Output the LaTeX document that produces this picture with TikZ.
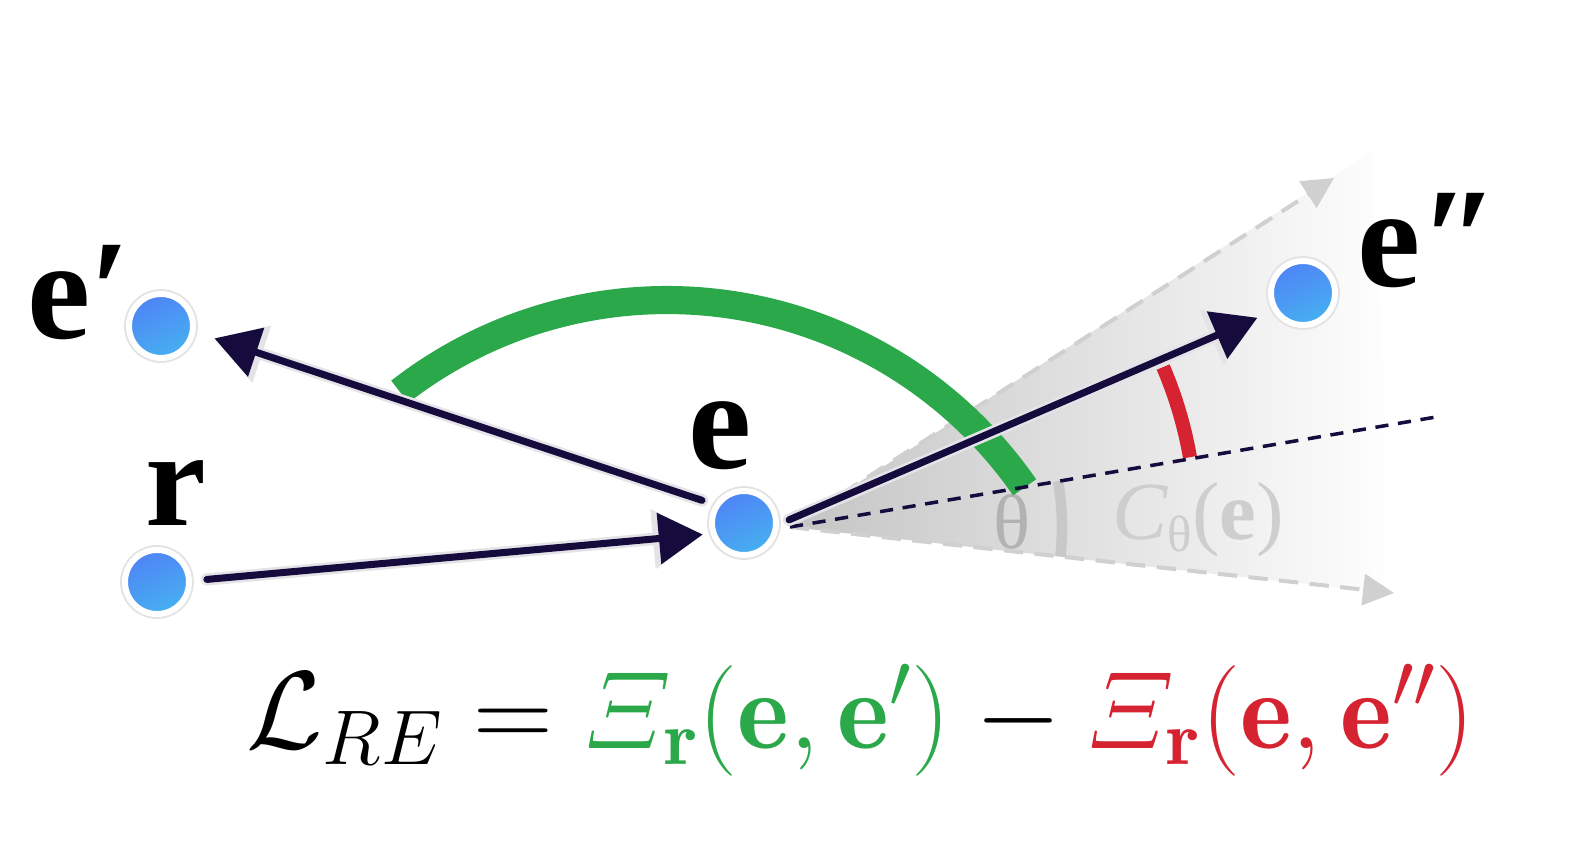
\documentclass[tikz,border=0pt]{standalone}
\usepackage{fix-cm}
\usepackage{fontspec}
\newfontfamily\tnr{Liberation Serif}
\usetikzlibrary{arrows.meta,calc}
\definecolor{navy}{HTML}{150B3C}
\definecolor{lgreen}{HTML}{2BA84A}
\definecolor{lred}{HTML}{D62331}
\definecolor{btop}{HTML}{4F84F6}
\definecolor{bbot}{HTML}{46B0F0}
\definecolor{raygray}{HTML}{D0D0D0}
\definecolor{glow}{HTML}{E4E4E8}
\definecolor{thgray}{HTML}{B2B2B2}
\definecolor{cgray}{HTML}{CECECE}
\definecolor{arcgray}{HTML}{C8C8C8}
\newcommand{\myXi}{\mathchar"0104}
\begin{document}
\begin{tikzpicture}[x=0.02cm,y=-0.02cm,
  ent/.style={circle, minimum size=1.28cm, inner sep=0pt,
    top color=btop, bottom color=bbot, shading angle=25,
    draw=white, line width=3.4pt,
    preaction={draw=gray!22, line width=5.6pt}},
  lbl/.style={inner sep=0pt, anchor=base west, font=\tnr\bfseries\fontsize{81}{86}\selectfont},
  arr/.style={navy, line width=4pt, line cap=round,
    preaction={draw=glow, line width=7pt, line cap=round,
      -{Triangle[length=1.0cm,width=1.14cm]}},
    -{Triangle[length=0.88cm,width=1.0cm]}},
  ray/.style={raygray, line width=2.3pt, dash pattern=on 11pt off 6.5pt,
    -{Triangle[length=0.62cm,width=0.62cm]}},
  midline/.style={navy, line width=2pt, dash pattern=on 7.5pt off 5.5pt},
]
\useasboundingbox (0,0) rectangle (1576,844);

% apex of the cone and ray ends
\coordinate (A) at (790,527);
\coordinate (up) at (1334,178);
\coordinate (lo) at (1394,593);
\coordinate (mid) at (1436,417);

% cone shading
\shade[left color=black!23, right color=white] (A) -- (1372,151) -- (1396,594) -- cycle;

% gray rays
\draw[ray] (A) -- (up);
\draw[ray] (A) -- (lo);

% theta angle mark and labels
\draw[line width=6pt, color=arcgray] (A) ++(-9.7:272) arc[start angle=-9.7, end angle=6.2, radius=272];
\node[text=thgray, inner sep=0pt] (th) at (1012,522) {\tnr\fontsize{44}{44}\selectfont θ};
\node[text=cgray, inner sep=0pt] (cth) at (1198,520) {\tnr\fontsize{47}{47}\selectfont\textit{C}\raisebox{-0.32ex}{\fontsize{29}{29}\selectfont θ}(\textbf{e})};

% green arc
\draw[lgreen, line width=16pt] (667,735) ++(-127.9:435) arc[start angle=-127.9, end angle=-34.7, radius=435];

% red arc
\draw[lred, line width=8pt] (A) ++(-9.9:406) arc[start angle=-9.9, end angle=-23.2, radius=406];

% dark dashed middle line
\draw[midline] (A) -- (mid);

% nodes
\node[ent] (ep) at (161,326) {};
\node[ent] (r) at (157,582) {};
\node[ent] (e) at (744,523) {};
\node[ent] (epp) at (1303,293) {};

% arrows
\draw[arr, shorten <=0.26cm, shorten >=0.4cm] (e.148.6) -- (ep.-10.5);
\draw[arr, shorten <=0.3cm, shorten >=0.16cm] (r.2.3) -- (e.198.9);
\draw[arr, shorten <=0.22cm, shorten >=0.34cm] (e.-2.5) -- (epp.211);

% labels
\node[lbl] (lep) at (27,339) {e′};
\node[lbl, font=\tnr\bfseries\fontsize{78}{80}\selectfont] (lr) at (145,525) {r};
\node[lbl] (le) at (688,469) {e};
\node[lbl] (lepp) at (1357,287) {e″};

% formula
\node[inner sep=0pt, anchor=base west] (loss) at (246,748) {\fontsize{63}{66}\selectfont
  $\mathcal{L}_{RE} = \textcolor{lgreen}{\myXi_{\mathbf r}(\mathbf e,\mathbf e')} - \textcolor{lred}{\myXi_{\mathbf r}(\mathbf e,\mathbf e'')}$};
\end{tikzpicture}
\end{document}
